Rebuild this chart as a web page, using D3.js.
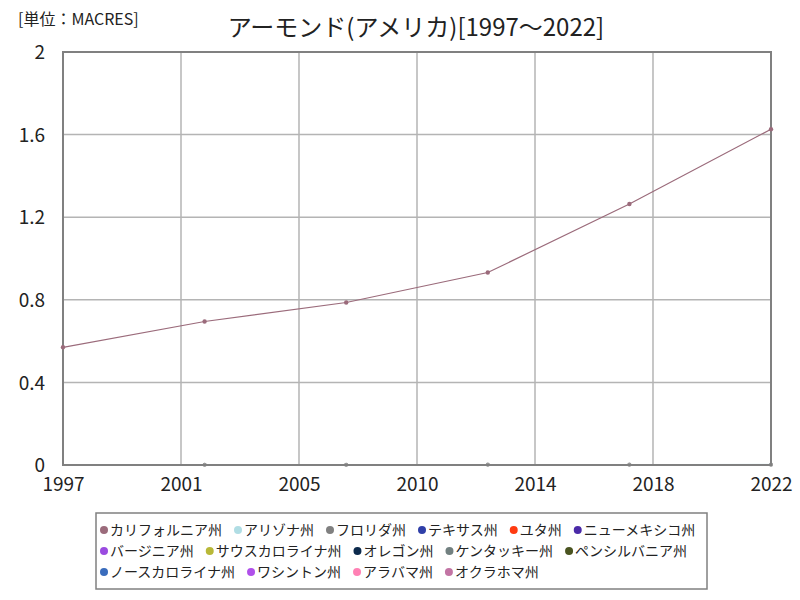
<!doctype html>
<html lang="ja">
<head>
<meta charset="utf-8">
<title>アーモンド(アメリカ)</title>
<script src="https://cdn.jsdelivr.net/npm/d3@7"></script>
<style>
  body { margin: 0; background: #fff; }
  text { font-family: "Noto Sans CJK JP", "DejaVu Sans", sans-serif; }
</style>
</head>
<body>
<script>
var W = 800, H = 600;
var margin = {top: 52, right: 29, bottom: 135, left: 63};

var years = [1997, 2002, 2007, 2012, 2017, 2022];
var states = ["カリフォルニア州", "アリゾナ州", "フロリダ州", "テキサス州", "ユタ州", "ニューメキシコ州",
              "バージニア州", "サウスカロライナ州", "オレゴン州", "ケンタッキー州", "ペンシルバニア州",
              "ノースカロライナ州", "ワシントン州", "アラバマ州", "オクラホマ州"];
var colors = ["#9b6b7b", "#b0dde4", "#808080", "#2f3fa8", "#ff3b10", "#4a2aa8",
              "#9a4be0", "#b8b838", "#0c2a4c", "#728080", "#4a5420",
              "#3a6cbc", "#b050ea", "#ff80b4", "#c274a4"];
// MACRES; only California is large enough to leave the zero line
var california = [0.57, 0.695, 0.787, 0.932, 1.264, 1.626];
var arizona    = [null, 0.001, 0.001, 0.002, 0.002, 0.003];
var texas      = [null, 0.001, 0.001, 0.001, 0.001, 0.001];
var values = [california, arizona, null, texas];

var xTicks = [1997, 2001.1667, 2005.3333, 2009.5, 2013.6667, 2017.8333, 2022];
var yTicks = [0, 0.4, 0.8, 1.2, 1.6, 2];

var svg = d3.select("body").append("svg")
    .attr("width", W).attr("height", H);

var iw = W - margin.left - margin.right, ih = H - margin.top - margin.bottom;
var x = d3.scaleLinear().domain([1997, 2022]).range([0, iw]);
var y = d3.scaleLinear().domain([0, 2]).range([ih, 0]);

var g = svg.append("g").attr("transform", "translate(" + margin.left + "," + margin.top + ")");

// grid
g.append("g").selectAll("line").data(xTicks.slice(1, -1)).enter().append("line")
    .attr("x1", d => x(d)).attr("x2", d => x(d)).attr("y1", 0).attr("y2", ih)
    .attr("stroke", "#b4b4b4").attr("stroke-width", 1.5);
g.append("g").selectAll("line").data(yTicks.slice(1, -1)).enter().append("line")
    .attr("x1", 0).attr("x2", iw).attr("y1", d => y(d)).attr("y2", d => y(d))
    .attr("stroke", "#b4b4b4").attr("stroke-width", 1.5);

// series (small states sit on the zero line, under the frame)
var line = d3.line().defined(d => d[1] != null).x(d => x(d[0])).y(d => y(d[1]));
values.forEach(function (v, i) {
    if (!v || i == 0) return;
    var pts = years.map((yr, j) => [yr, v[j]]);
    g.append("path").datum(pts).attr("d", line)
        .attr("fill", "none").attr("stroke", colors[i]).attr("stroke-width", 1);
    g.append("g").selectAll("circle").data(pts.filter(p => p[1] != null)).enter().append("circle")
        .attr("cx", d => x(d[0])).attr("cy", d => y(d[1])).attr("r", 2)
        .attr("fill", "#999");
});

// frame
g.append("rect").attr("width", iw).attr("height", ih)
    .attr("fill", "none").attr("stroke", "#808080").attr("stroke-width", 2);

(function () {
    var pts = years.map((yr, j) => [yr, california[j]]);
    g.append("path").datum(pts).attr("d", line)
        .attr("fill", "none").attr("stroke", colors[0]).attr("stroke-width", 1.2);
    g.append("g").selectAll("circle").data(pts).enter().append("circle")
        .attr("cx", d => x(d[0])).attr("cy", d => y(d[1])).attr("r", 2.2)
        .attr("fill", colors[0]);
})();

// axes
var xAxis = d3.axisBottom(x).tickValues(xTicks).tickSize(0).tickPadding(13)
    .tickFormat(d => Math.round(d));
var yAxis = d3.axisLeft(y).tickValues(yTicks).tickSize(0).tickPadding(18)
    .tickFormat(d => d);
var gx = g.append("g").attr("transform", "translate(0," + ih + ")").call(xAxis);
var gy = g.append("g").call(yAxis);
[gx, gy].forEach(function (a) {
    a.select(".domain").remove();
    a.selectAll("text").attr("font-size", 19).attr("fill", "#222")
        .style("font-family", "'Noto Sans CJK JP', sans-serif");
});
gy.selectAll("text").attr("dy", "0.35em");

// titles
svg.append("text").attr("x", 416).attr("y", 36).attr("text-anchor", "middle")
    .attr("font-size", 24).attr("fill", "#222").text("アーモンド(アメリカ)[1997～2022]");
svg.append("text").attr("x", 18).attr("y", 25)
    .attr("font-size", 16).attr("fill", "#222").text("[単位：MACRES]");

// legend
var lg = svg.append("g");
var lx0 = 104, ly0 = 530, lrow = 21, lmax = 704;
var lx = lx0, ly = ly0;
states.forEach(function (s, i) {
    var item = lg.append("g");
    item.append("circle").attr("cx", 0).attr("cy", 0).attr("r", 4).attr("fill", colors[i]);
    var t = item.append("text").attr("x", 6).attr("y", 0).attr("dy", "0.35em")
        .attr("font-size", 14).attr("fill", "#222").text(s);
    var w = 6 + t.node().getComputedTextLength();
    if (lx + w > lmax) { lx = lx0; ly += lrow; }
    item.attr("transform", "translate(" + lx + "," + ly + ")");
    lx += w + 16;
});
lg.insert("rect", ":first-child").attr("x", 96).attr("y", 513).attr("width", 611).attr("height", 76)
    .attr("fill", "#fff").attr("stroke", "#808080").attr("stroke-width", 1.5);
</script>
</body>
</html>
